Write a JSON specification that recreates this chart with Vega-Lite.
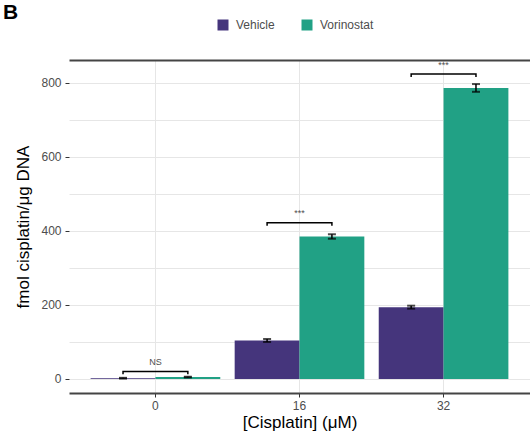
{
  "$schema": "https://vega.github.io/schema/vega-lite/v6.json",
  "width": 461,
  "height": 333,
  "autosize": "none",
  "padding": {"left": 69, "top": 60, "right": 0, "bottom": 44},
  "config": {
    "view": {"stroke": null},
    "font": "Liberation Sans",
    "axis": {"labelFont": "Liberation Sans", "titleFont": "Liberation Sans"}
  },
  "title": {
    "text": "B",
    "anchor": "start",
    "frame": "group",
    "fontSize": 21,
    "fontWeight": "bold",
    "color": "black",
    "dx": -66,
    "dy": 4,
    "offset": 0
  },
  "datasets": {
    "bars": [
      {"dose": "0", "treatment": "Vehicle", "mean": 2, "lo": 1, "hi": 3},
      {"dose": "0", "treatment": "Vorinostat", "mean": 5, "lo": 4, "hi": 6},
      {"dose": "16", "treatment": "Vehicle", "mean": 104, "lo": 100, "hi": 108},
      {"dose": "16", "treatment": "Vorinostat", "mean": 385, "lo": 379, "hi": 391},
      {"dose": "32", "treatment": "Vehicle", "mean": 194, "lo": 190, "hi": 198},
      {"dose": "32", "treatment": "Vorinostat", "mean": 786, "lo": 776, "hi": 797}
    ],
    "brackets": [
      {"dose": "0", "treatment": "Vehicle", "y": 13, "ord": 1},
      {"dose": "0", "treatment": "Vehicle", "y": 20, "ord": 2},
      {"dose": "0", "treatment": "Vorinostat", "y": 20, "ord": 3},
      {"dose": "0", "treatment": "Vorinostat", "y": 13, "ord": 4},
      {"dose": "16", "treatment": "Vehicle", "y": 414, "ord": 1},
      {"dose": "16", "treatment": "Vehicle", "y": 422, "ord": 2},
      {"dose": "16", "treatment": "Vorinostat", "y": 422, "ord": 3},
      {"dose": "16", "treatment": "Vorinostat", "y": 414, "ord": 4},
      {"dose": "32", "treatment": "Vehicle", "y": 816, "ord": 1},
      {"dose": "32", "treatment": "Vehicle", "y": 824, "ord": 2},
      {"dose": "32", "treatment": "Vorinostat", "y": 824, "ord": 3},
      {"dose": "32", "treatment": "Vorinostat", "y": 816, "ord": 4}
    ],
    "labels": [
      {"dose": "0", "label": "NS", "y": 46},
      {"dose": "16", "label": "***", "y": 449},
      {"dose": "32", "label": "***", "y": 849}
    ]
  },
  "resolve": {"axis": {"x": "independent"}},
  "layer": [
    {
      "data": {"name": "bars"},
      "mark": {"type": "bar"},
      "encoding": {
        "x": {
          "field": "dose", "type": "ordinal", "sort": ["0", "16", "32"],
          "scale": {"paddingInner": 0.1, "paddingOuter": 0.15},
          "axis": {
            "bandPosition": 0.5, "labelAngle": 0, "grid": true, "gridColor": "#e6e6e6", "gridWidth": 1,
            "domainColor": "#444444", "domainWidth": 2, "tickColor": "#333333", "tickSize": 4, "tickWidth": 1,
            "labelColor": "#4d4d4d", "labelFontSize": 12, "labelPadding": 3,
            "title": "[Cisplatin] (μM)", "titleFontSize": 17, "titleFontWeight": "normal", "titleColor": "black", "titlePadding": 3
          }
        },
        "xOffset": {"field": "treatment", "type": "nominal", "scale": {"paddingInner": 0, "paddingOuter": 0}},
        "y": {
          "field": "mean", "type": "quantitative",
          "scale": {"domain": [-38, 862], "nice": false, "zero": false},
          "axis": {
            "values": [0, 100, 200, 300, 400, 500, 600, 700, 800],
            "labelExpr": "datum.value % 200 === 0 ? datum.label : ''",
            "tickOpacity": {"condition": {"test": "datum.value % 200 === 0", "value": 1}, "value": 0},
            "grid": true, "gridColor": "#e6e6e6", "gridWidth": 1, "domain": false,
            "tickColor": "#333333", "tickSize": 4, "tickWidth": 1,
            "labelColor": "#4d4d4d", "labelFontSize": 12, "labelPadding": 4,
            "title": "fmol cisplatin/μg DNA", "titleFontSize": 17, "titleFontWeight": "normal", "titleColor": "black", "titlePadding": 8
          }
        },
        "y2": {"datum": 0},
        "color": {
          "field": "treatment", "type": "nominal",
          "scale": {"domain": ["Vehicle", "Vorinostat"], "range": ["#45357c", "#21a185"]},
          "legend": {
            "title": null, "orient": "none", "direction": "horizontal", "legendX": 148, "legendY": -41,
            "symbolType": "square", "symbolSize": 121, "symbolStrokeWidth": 0, "symbolOpacity": 1,
            "labelFontSize": 12, "labelColor": "#4d4d4d", "labelOffset": 7, "columnPadding": 26
          }
        }
      }
    },
    {
      "data": {"name": "bars"},
      "mark": {"type": "rule", "color": "black", "strokeWidth": 1.5},
      "encoding": {
        "x": {"field": "dose", "type": "ordinal", "sort": ["0", "16", "32"], "axis": null},
        "xOffset": {"field": "treatment", "type": "nominal"},
        "y": {"field": "lo", "type": "quantitative"},
        "y2": {"field": "hi"}
      }
    },
    {
      "data": {"name": "bars"},
      "mark": {"type": "tick", "color": "black", "size": 8, "thickness": 2, "orient": "horizontal"},
      "encoding": {
        "x": {"field": "dose", "type": "ordinal", "sort": ["0", "16", "32"], "axis": null},
        "xOffset": {"field": "treatment", "type": "nominal"},
        "y": {"field": "lo", "type": "quantitative"}
      }
    },
    {
      "data": {"name": "bars"},
      "mark": {"type": "tick", "color": "black", "size": 8, "thickness": 2, "orient": "horizontal"},
      "encoding": {
        "x": {"field": "dose", "type": "ordinal", "sort": ["0", "16", "32"], "axis": null},
        "xOffset": {"field": "treatment", "type": "nominal"},
        "y": {"field": "hi", "type": "quantitative"}
      }
    },
    {
      "data": {"name": "brackets"},
      "mark": {"type": "line", "color": "black", "strokeWidth": 1.5},
      "encoding": {
        "x": {
          "field": "dose", "type": "ordinal", "sort": ["0", "16", "32"],
          "axis": {"orient": "top", "labels": false, "ticks": false, "grid": false, "title": null, "domainColor": "#444444", "domainWidth": 2}
        },
        "xOffset": {"field": "treatment", "type": "nominal"},
        "y": {"field": "y", "type": "quantitative"},
        "detail": {"field": "dose"},
        "order": {"field": "ord"}
      }
    },
    {
      "data": {"name": "labels"},
      "mark": {"type": "text", "color": "#4d4d4d", "fontSize": 9},
      "encoding": {
        "x": {"field": "dose", "type": "ordinal", "sort": ["0", "16", "32"], "axis": null},
        "y": {"field": "y", "type": "quantitative"},
        "text": {"field": "label"}
      }
    }
  ]
}
